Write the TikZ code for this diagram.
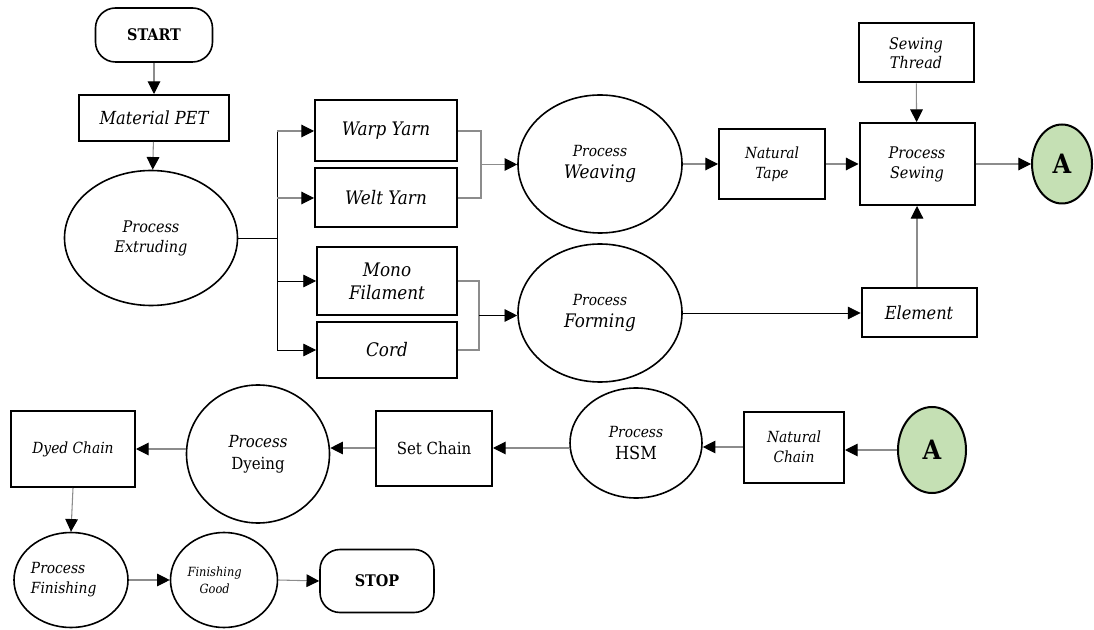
\documentclass[tikz,border=0pt]{standalone}
\usepackage{fontspec}
\setmainfont{DejaVu Serif Condensed}
\usetikzlibrary{shapes.geometric,arrows.meta,calc}
\definecolor{agreen}{HTML}{C5E0B4}
\definecolor{lgray}{HTML}{8C8C8C}
\newcommand\fs[2][16]{\fontsize{#2}{#1}\selectfont}
\begin{document}
\begin{tikzpicture}[x=0.75pt,y=-0.75pt,
  boxn/.style={draw,line width=1.5pt,rectangle,inner sep=0pt,align=center},
  elln/.style={draw,line width=1.2pt,ellipse,inner sep=0pt,align=center},
  term/.style={draw,line width=1.2pt,rectangle,rounded corners=15pt,inner sep=0pt,align=center,font=\bfseries\fs{12}},
  conn/.style={draw,line width=1.5pt,ellipse,inner sep=0pt,fill=agreen,font=\bfseries\fs{20}},
  arr/.style={lgray,line width=0.8pt,-{Triangle[length=9.5pt,width=9.5pt,color=black]}},
  arrk/.style={black,line width=0.6pt,-{Triangle[length=9.5pt,width=9.5pt,color=black]}},
  ln/.style={black,line width=0.6pt},
  lng/.style={lgray,line width=0.8pt}]
\useasboundingbox (0,0) rectangle (1094,630);

% top section
\node[term,minimum width=117*0.75pt,minimum height=54*0.75pt] (start) at (154,35) {START};
\node[boxn,minimum width=150*0.75pt,minimum height=46*0.75pt,font=\itshape\fs{13.5}] (mat) at (154,118) {Material PET};
\node[elln,minimum width=173*0.75pt,minimum height=135*0.75pt,font={\itshape\fs[15]{12}}] (ext) at (151,238) {Process\\Extruding};

\node[boxn,minimum width=142*0.75pt,minimum height=61*0.75pt,font=\itshape\fs{14}] (warp) at (386,131) {Warp Yarn};
\node[boxn,minimum width=142*0.75pt,minimum height=59*0.75pt,font=\itshape\fs{14}] (welt) at (386,198) {Welt Yarn};
\node[boxn,minimum width=140*0.75pt,minimum height=68*0.75pt,font={\itshape\fs[17]{14}}] (mono) at (387,281) {Mono\\Filament};
\node[boxn,minimum width=140*0.75pt,minimum height=55*0.75pt,font=\itshape\fs{14}] (cord) at (387,350) {Cord};

\node[elln,minimum width=164*0.75pt,minimum height=138*0.75pt,font={\itshape\fs[16.5]{13}}] (weav) at (600,164) {{\fs{11.5}Process}\\{\fs{14}Weaving}};
\node[elln,minimum width=164*0.75pt,minimum height=138*0.75pt,font={\itshape\fs[16.5]{13}}] (form) at (600,313) {{\fs{11.5}Process}\\{\fs{14}Forming}};

\node[boxn,minimum width=106*0.75pt,minimum height=70*0.75pt,font={\itshape\fs[15]{11.5}}] (ntape) at (772,164) {Natural\\Tape};
\node[boxn,minimum width=115*0.75pt,minimum height=82*0.75pt,font={\itshape\fs[15]{12}}] (sew) at (917,164) {Process\\Sewing};
\node[boxn,minimum width=115*0.75pt,minimum height=59*0.75pt,font={\itshape\fs[14.5]{12}}] (thread) at (916,53) {Sewing\\Thread};
\node[boxn,minimum width=115*0.75pt,minimum height=49*0.75pt,font=\itshape\fs{13.5}] (elem) at (919,313) {Element};
\node[conn,minimum width=60*0.75pt,minimum height=79*0.75pt] (a1) at (1062,164) {A};

% bottom section
\node[conn,minimum width=68*0.75pt,minimum height=86*0.75pt] (a2) at (932,450) {A};
\node[boxn,minimum width=100*0.75pt,minimum height=71*0.75pt,font={\itshape\fs[15]{11.5}}] (nchain) at (794,447) {Natural\\Chain};
\node[elln,minimum width=132*0.75pt,minimum height=110*0.75pt,font={\fs[16.5]{13}}] (hsm) at (636,443) {{\itshape\fs{11.5}Process}\\{\fs{13.5}HSM}};
\node[boxn,minimum width=116*0.75pt,minimum height=75*0.75pt,font=\fs{12.5}] (set) at (434,448) {Set Chain};
\node[elln,minimum width=143*0.75pt,minimum height=138*0.75pt,font={\fs[16.5]{12.5}}] (dye) at (258,454) {{\itshape\fs{12.5}Process}\\{\fs{12.5}Dyeing}};
\node[boxn,minimum width=124*0.75pt,minimum height=76*0.75pt,font=\itshape\fs{11.5}] (dyed) at (73,449) {Dyed Chain};
\node[elln,minimum width=114*0.75pt,minimum height=95*0.75pt,align=left,font={\itshape\fs[15]{11.5}}] (fin) at (71,580) {Process\\Finishing\hspace*{11pt}};
\node[elln,minimum width=107*0.75pt,minimum height=95*0.75pt,font={\itshape\fs[12.5]{9.5}}] (good) at (224,580) {Finishing\hspace*{14pt}\\Good\hspace*{14pt}};
\node[term,minimum width=114*0.75pt,minimum height=63*0.75pt] (stop) at (377,581) {STOP};

% connectors top
\draw[arr] (start) -- (mat);
\draw[arr] (mat) -- (ext);
\coordinate (bt) at (277,131);
\coordinate (bb) at (277,350);
\draw[ln] (ext.east) -- (ext.east -| bt);
\draw[ln] (bt) -- (bb);
\draw[arr] (bt) -- (warp.west);
\draw[arr] (welt.west -| bt) -- (welt.west);
\draw[arrk] (mono.west -| bt) -- (mono.west);
\draw[arrk] (bb) -- (cord.west);

\coordinate (br1) at ($(warp.east)!0.5!(welt.east)+(23,0)$);
\draw[lng] (warp.east) -- (warp.east -| br1) -- (welt.east -| br1) -- (welt.east);
\draw[arr] (br1) -- (br1 -| weav.west);
\coordinate (br2) at ($(mono.east)!0.5!(cord.east)+(21,0)$);
\draw[lng] (mono.east) -- (mono.east -| br2) -- (cord.east -| br2) -- (cord.east);
\draw[arrk] (br2) -- (br2 -| form.west);

\draw[arr] (weav.east) -- (ntape.west);
\draw[arr] (ntape.east) -- (sew.west);
\draw[arr] (thread) -- (sew);
\draw[arrk] (form.east) -- (elem.west);
\draw[arr] (elem.north -| sew) -- (sew.south);
\draw[arr] (sew.east) -- (a1.west);

% connectors bottom
\draw[arr] (a2.west) -- (a2.west -| nchain.east);
\draw[arr] (nchain.west) -- (nchain.west -| hsm.east);
\draw[arr] (hsm.west |- set.east) -- (set.east);
\draw[arr] (set.west) -- (set.west -| dye.east);
\draw[arr] (dye.west |- dyed.east) -- (dyed.east);
\draw[arr] (dyed.south) -- (fin.north);
\draw[arr] (fin.east) -- (good.west);
\draw[arr] (good.east) -- (stop.west);
\end{tikzpicture}
\end{document}
